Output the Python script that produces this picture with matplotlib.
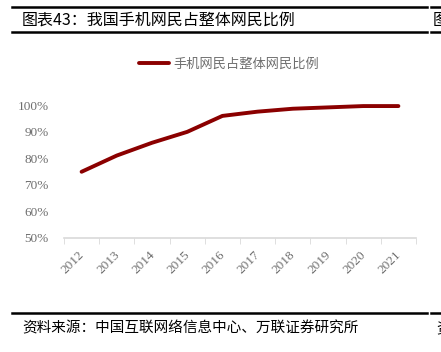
import matplotlib
matplotlib.use("Agg")
import matplotlib.pyplot as plt
import matplotlib.transforms as mtransforms
from matplotlib.lines import Line2D
from matplotlib.ticker import FuncFormatter, FixedLocator

plt.rcParams['font.family'] = ['Noto Sans CJK SC', 'DejaVu Sans']

years = ['2012', '2013', '2014', '2015', '2016', '2017', '2018', '2019', '2020', '2021']
mobile_share = [0.749, 0.810, 0.858, 0.899, 0.959, 0.975, 0.986, 0.991, 0.996, 0.996]
y_ticks = [0.5, 0.6, 0.7, 0.8, 0.9, 1.0]

title = '图表43：我国手机网民占整体网民比例'
series_name = '手机网民占整体网民比例'
source = '资料来源：中国互联网络信息中心、万联证券研究所'

W, H = 441, 352
fig = plt.figure(figsize=(W / 100, H / 100), dpi=100)


def fx(px):
    return px / W


def fy(py):
    return 1 - py / H


# header / footer rules
for y in (7, 32, 313):
    fig.add_artist(Line2D([fx(12), fx(427)], [fy(y), fy(y)], color='black', lw=1.8))
    fig.add_artist(Line2D([fx(431), fx(441)], [fy(y), fy(y)], color='black', lw=1.8))

fig.text(fx(22), fy(20), title, fontsize=11.5, va='center', ha='left')
fig.text(fx(433), fy(20), '图', fontsize=11.5, va='center', ha='left')
fig.text(fx(22), fy(328), source, fontsize=10.5, va='center', ha='left', style='italic')
fig.text(fx(436), fy(328), '资', fontsize=10.5, va='center', ha='left', style='italic')

ax = fig.add_axes([fx(64), fy(238), fx(416) - fx(64), fy(105) - fy(238)])
x = list(range(len(years)))
line, = ax.plot(x, mobile_share, color='#8b0000', lw=2.8, solid_capstyle='round',
                clip_on=False, label=series_name)

ax.set_xlim(-0.5, len(years) - 0.5)
ax.set_ylim(0.5, 1.0)
ax.set_yticks(y_ticks)
ax.yaxis.set_major_formatter(FuncFormatter(lambda v, p: f'{v * 100:.0f}%'))
ax.tick_params(axis='y', length=0, pad=11, labelsize=9.5, labelcolor='#6e6e6e')
for lab in ax.get_yticklabels():
    lab.set_fontfamily('Liberation Serif')

ax.set_xticks(x)
ax.set_xticklabels(years)
ax.xaxis.set_minor_locator(FixedLocator([i - 0.5 for i in range(len(years) + 1)]))
ax.tick_params(axis='x', which='major', length=0, pad=8, labelsize=9.5, labelcolor='#6e6e6e')
ax.tick_params(axis='x', which='minor', length=4, color='#d9d9d9', direction='out')
offset = mtransforms.ScaledTranslation(5 / 100, 0, fig.dpi_scale_trans)
for lab in ax.get_xticklabels():
    lab.set_fontfamily('Liberation Serif')
    lab.set_rotation(45)
    lab.set_ha('right')
    lab.set_transform(lab.get_transform() + offset)

for side in ('top', 'right', 'left'):
    ax.spines[side].set_visible(False)
ax.spines['bottom'].set_color('#d9d9d9')
ax.spines['bottom'].set_linewidth(1.2)

leg = fig.legend(handles=[line], loc='center', bbox_to_anchor=(fx(229), fy(64)),
                 frameon=False, fontsize=9.5, handlelength=2.3, handletextpad=0.3,
                 labelcolor='#6e6e6e')

fig.savefig('out.png', dpi=100)
